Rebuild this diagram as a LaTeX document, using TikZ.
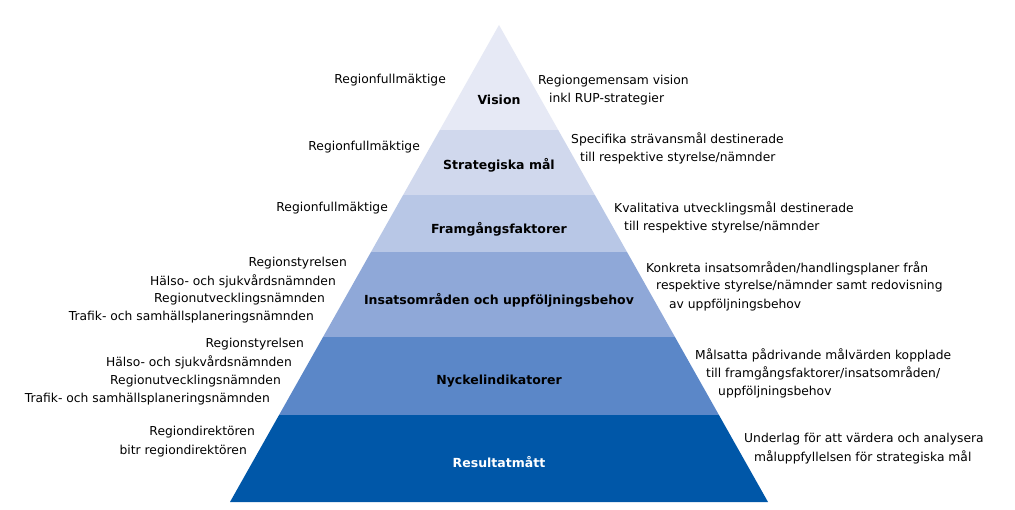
\documentclass[tikz,border=0pt]{standalone}
\usepackage{fontspec}
\setmainfont{DejaVu Sans}
\begin{document}
\begin{tikzpicture}[x=1pt,y=-1pt,
  txt/.style={inner sep=0pt,font=\fontsize{12.3}{14}\selectfont},
  lvl/.style={inner sep=0pt,font=\fontsize{12.5}{14}\selectfont\bfseries}]
\useasboundingbox (0,0) rectangle (1015,510);
\fill[white] (0,0) rectangle (1015,510);
\begin{scope}
\clip (499,25) -- (768,502) -- (230,502) -- cycle;
\fill[fill={rgb,255:red,230;green,233;blue,245}] (200,20) rectangle (800,130);
\fill[fill={rgb,255:red,208;green,216;blue,237}] (200,130) rectangle (800,195);
\fill[fill={rgb,255:red,184;green,199;blue,230}] (200,195) rectangle (800,252);
\fill[fill={rgb,255:red,143;green,168;blue,216}] (200,252) rectangle (800,337);
\fill[fill={rgb,255:red,91;green,135;blue,200}] (200,337) rectangle (800,415);
\fill[fill={rgb,255:red,0;green,87;blue,168}] (200,415) rectangle (800,505);
\end{scope}
\node[lvl] (l1) at (499,100) {Vision};
\node[lvl] (l2) at (499,165) {Strategiska mål};
\node[lvl] (l3) at (499,229) {Framgångsfaktorer};
\node[lvl] (l4) at (499,300) {Insatsområden och uppföljningsbehov};
\node[lvl] (l5) at (499,381) {Nyckelindikatorer};
\node[lvl,text=white] (l6) at (499,462) {Resultatmått};
% left
\node[txt,anchor=east] (a1) at (446,80) {Regionfullmäktige};
\node[txt,anchor=east] (a2) at (420,147) {Regionfullmäktige};
\node[txt,anchor=east] (a3) at (388,208) {Regionfullmäktige};
\node[txt,anchor=east] (a4) at (347,263) {Regionstyrelsen};
\node[txt,anchor=east] (a5) at (336,281) {Hälso- och sjukvårdsnämnden};
\node[txt,anchor=east] (a6) at (325,299) {Regionutvecklingsnämnden};
\node[txt,anchor=east] (a7) at (314,317) {Trafik- och samhällsplaneringsnämnden};
\node[txt,anchor=east] (a8) at (304,344) {Regionstyrelsen};
\node[txt,anchor=east] (a9) at (292,362) {Hälso- och sjukvårdsnämnden};
\node[txt,anchor=east] (a10) at (281,381) {Regionutvecklingsnämnden};
\node[txt,anchor=east] (a11) at (270,399) {Trafik- och samhällsplaneringsnämnden};
\node[txt,anchor=east] (a12) at (255,432) {Regiondirektören};
\node[txt,anchor=east] (a13) at (247,451) {bitr regiondirektören};
% right
\node[txt,anchor=west] (b1) at (538,81) {Regiongemensam vision};
\node[txt,anchor=west] (b2) at (549,99) {inkl RUP-strategier};
\node[txt,anchor=west] (b3) at (571,139) {Specifika strävansmål destinerade};
\node[txt,anchor=west] (b4) at (580,158) {till respektive styrelse/nämnder};
\node[txt,anchor=west] (b5) at (614,208) {Kvalitativa utvecklingsmål destinerade};
\node[txt,anchor=west] (b6) at (624,227) {till respektive styrelse/nämnder};
\node[txt,anchor=west] (b7) at (646,268) {Konkreta insatsområden/handlingsplaner från};
\node[txt,anchor=west] (b8) at (656,286) {respektive styrelse/nämnder samt redovisning};
\node[txt,anchor=west] (b9) at (669,305) {av uppföljningsbehov};
\node[txt,anchor=west] (b10) at (695,355) {Målsatta pådrivande målvärden kopplade};
\node[txt,anchor=west] (b11) at (706,373) {till framgångsfaktorer/insatsområden/};
\node[txt,anchor=west] (b12) at (718,392) {uppföljningsbehov};
\node[txt,anchor=west] (b13) at (744,439) {Underlag för att värdera och analysera};
\node[txt,anchor=west] (b14) at (754,457) {måluppfyllelsen för strategiska mål};
\end{tikzpicture}
\end{document}
